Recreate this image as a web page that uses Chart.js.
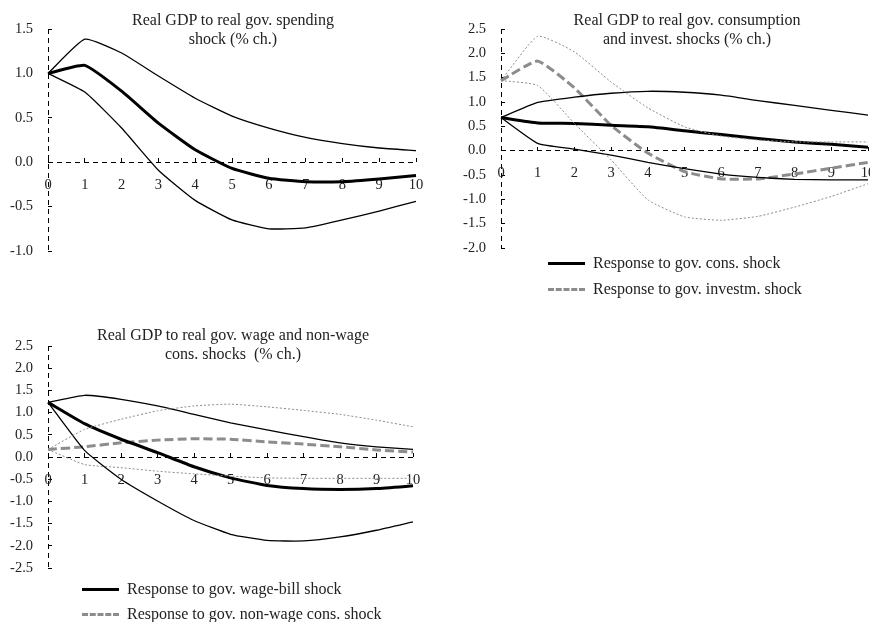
<!DOCTYPE html>
<html>
<head>
<meta charset="utf-8">
<script src="https://cdn.jsdelivr.net/npm/chart.js@4.4.1/dist/chart.umd.min.js"></script>
<style>
  html, body { margin: 0; padding: 0; background: #fff; overflow: hidden; }
  body { width: 870px; height: 622px; position: relative; font-family: "Liberation Serif", "Times New Roman", serif; color: #222; }
  canvas { position: absolute; }
  .title { position: absolute; width: 420px; text-align: center; font-size: 16px; line-height: 19px; white-space: pre; }
  .leg { position: absolute; height: 20px; line-height: 20px; font-size: 16px; white-space: nowrap; }
  .leg span.sample { position: absolute; left: 0; top: 9px; width: 37px; height: 0; }
  .leg span.txt { position: absolute; left: 45px; top: 0; }
</style>
</head>
<body>
<canvas id="c1" width="440" height="270" style="left:0;top:0"></canvas>
<canvas id="c2" width="440" height="270" style="left:452px;top:0"></canvas>
<canvas id="c3" width="440" height="290" style="left:0;top:300px"></canvas>

<div class="title" style="left:23px;top:10px">Real GDP to real gov. spending
shock (% ch.)</div>
<div class="title" style="left:477px;top:10px">Real GDP to real gov. consumption
and invest. shocks (% ch.)</div>
<div class="title" style="left:23px;top:325px">Real GDP to real gov. wage and non-wage
cons. shocks  (% ch.)</div>

<div class="leg" style="left:548px;top:253px"><span class="sample" style="border-top:3px solid #000"></span><span class="txt">Response to gov. cons. shock</span></div>
<div class="leg" style="left:548px;top:279px"><span class="sample" style="border-top:3px dashed #8c8c8c"></span><span class="txt">Response to gov. investm. shock</span></div>
<div class="leg" style="left:82px;top:579px"><span class="sample" style="border-top:3px solid #000"></span><span class="txt">Response to gov. wage-bill shock</span></div>
<div class="leg" style="left:82px;top:604px"><span class="sample" style="border-top:3px dashed #8c8c8c"></span><span class="txt">Response to gov. non-wage cons. shock</span></div>

<script>
// quarters after the shock
const steps = ['0', '1', '2', '3', '4', '5', '6', '7', '8', '9', '10'];

// top left: gov. spending shock
const spendMid = [1.00, 1.09, 0.80, 0.44, 0.14, -0.07, -0.18, -0.22, -0.22, -0.19, -0.15];
const spendHi = [1.00, 1.385, 1.23, 0.97, 0.72, 0.52, 0.385, 0.28, 0.21, 0.16, 0.13];
const spendLo = [1.00, 0.79, 0.385, -0.09, -0.43, -0.65, -0.75, -0.74, -0.65, -0.55, -0.44];

// top right: consumption and investment shocks
const consMid = [0.68, 0.57, 0.56, 0.52, 0.49, 0.41, 0.33, 0.25, 0.18, 0.13, 0.07];
const consHi = [0.68, 0.99, 1.10, 1.18, 1.22, 1.20, 1.14, 1.03, 0.93, 0.83, 0.73];
const consLo = [0.68, 0.15, 0.03, -0.09, -0.24, -0.37, -0.48, -0.55, -0.59, -0.60, -0.60];
const invMid = [1.44, 1.84, 1.29, 0.52, -0.05, -0.43, -0.58, -0.58, -0.48, -0.36, -0.24];
const invHi = [1.44, 2.35, 2.03, 1.41, 0.88, 0.49, 0.30, 0.22, 0.18, 0.18, 0.18];
const invLo = [1.44, 1.34, 0.56, -0.19, -1.01, -1.36, -1.43, -1.35, -1.16, -0.94, -0.68];

// bottom left: wage-bill and non-wage shocks
const wageMid = [1.23, 0.75, 0.40, 0.10, -0.22, -0.47, -0.64, -0.71, -0.73, -0.71, -0.65];
const wageHi = [1.23, 1.39, 1.30, 1.15, 0.96, 0.77, 0.61, 0.46, 0.32, 0.23, 0.17];
const wageLo = [1.23, 0.15, -0.50, -0.99, -1.43, -1.74, -1.88, -1.89, -1.80, -1.65, -1.46];
const nonwMid = [0.17, 0.23, 0.32, 0.38, 0.41, 0.40, 0.34, 0.29, 0.23, 0.16, 0.11];
const nonwHi = [0.17, 0.62, 0.85, 1.04, 1.15, 1.19, 1.13, 1.05, 0.96, 0.83, 0.68];
const nonwLo = [0.17, -0.17, -0.24, -0.32, -0.38, -0.43, -0.47, -0.48, -0.48, -0.48, -0.48];

const GRAY = '#8c8c8c';
const tickFont = { family: 'Liberation Serif', size: 14.5 };

function mainLine(data, color, dash) {
  return { data: data, borderColor: color, borderWidth: 3, borderDash: dash || [], pointRadius: 0, tension: 0.15, fill: false };
}
function bandLine(data, color, dash) {
  return { data: data, borderColor: color, borderWidth: dash ? 1 : 1.3, borderDash: dash || [], pointRadius: 0, tension: 0.15, fill: false };
}

// axis lines are drawn as the dashed zero grid lines, tick marks point inward
function makeChart(id, datasets, yMin, yMax, axisWidth, pad) {
  const ctx = document.getElementById(id).getContext('2d');
  return new Chart(ctx, {
    type: 'line',
    data: { labels: steps, datasets: datasets },
    options: {
      responsive: false,
      animation: false,
      layout: { padding: pad },
      plugins: { legend: { display: false }, tooltip: { enabled: false }, title: { display: false } },
      scales: {
        x: {
          type: 'category',
          offset: false,
          position: { y: 0 },
          grid: {
            drawOnChartArea: true, drawTicks: true, tickLength: -4, tickColor: '#000', lineWidth: 1,
            color: function (c) { return c.index === 0 ? '#000' : 'rgba(0,0,0,0)'; }
          },
          border: { display: false, dash: [5, 4] },
          ticks: { color: '#222', font: tickFont, padding: 18, autoSkip: false, maxRotation: 0 },
          afterFit: function (scale) { scale.paddingLeft = 0; scale.paddingRight = 0; }
        },
        y: {
          position: 'left',
          min: yMin,
          max: yMax,
          grid: {
            drawOnChartArea: true, drawTicks: true, tickLength: -4, tickColor: '#000', lineWidth: 1,
            color: function (c) { return c.tick && c.tick.value === 0 ? '#000' : 'rgba(0,0,0,0)'; }
          },
          border: { display: false, dash: [5, 4] },
          ticks: { stepSize: 0.5, color: '#222', font: tickFont, padding: 19,
            callback: function (v) { return Number(v).toFixed(1); } },
          afterFit: function (scale) { scale.width = axisWidth; scale.paddingTop = 0; scale.paddingBottom = 0; }
        }
      }
    }
  });
}

makeChart('c1', [
  bandLine(spendHi, '#000'),
  bandLine(spendLo, '#000'),
  mainLine(spendMid, '#000')
], -1.0, 1.5, 48, { left: 0, right: 24, top: 29, bottom: 19 });

makeChart('c2', [
  bandLine(invHi, GRAY, [2, 2]),
  bandLine(invLo, GRAY, [2, 2]),
  bandLine(consHi, '#000'),
  bandLine(consLo, '#000'),
  mainLine(consMid, '#000'),
  mainLine(invMid, GRAY, [9, 4])
], -2.0, 2.5, 49, { left: 0, right: 24, top: 29, bottom: 22 });

makeChart('c3', [
  bandLine(nonwHi, GRAY, [2, 2]),
  bandLine(nonwLo, GRAY, [2, 2]),
  bandLine(wageHi, '#000'),
  bandLine(wageLo, '#000'),
  mainLine(wageMid, '#000'),
  mainLine(nonwMid, GRAY, [9, 4])
], -2.5, 2.5, 48, { left: 0, right: 27, top: 46, bottom: 22 });
</script>
</body>
</html>
